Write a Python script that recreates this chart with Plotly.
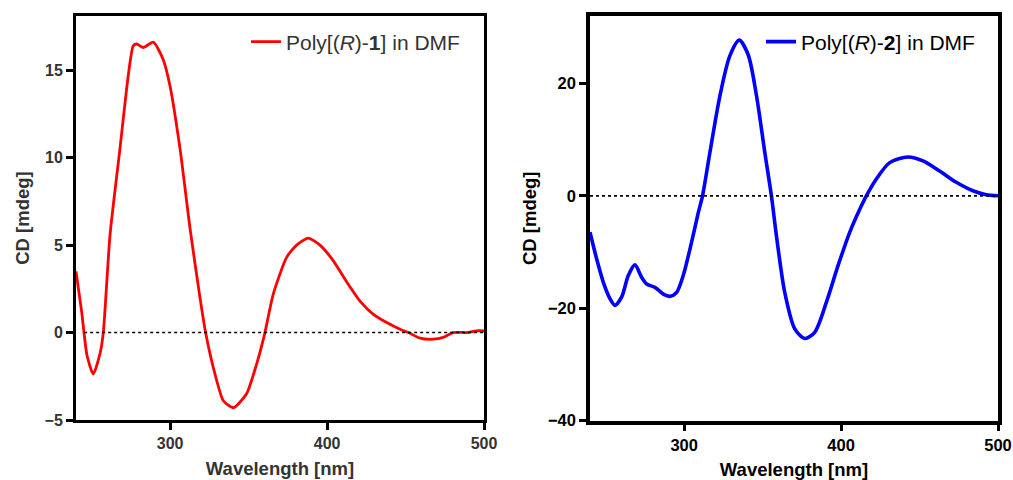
import plotly.graph_objects as go

# ---- data: Poly[(R)-1] in DMF (left) ----
wl1 = [240, 243.6, 247, 251, 255.3, 257.4, 261.7, 268, 273.3, 276.5, 278.7, 282.9, 289.3,
       295.6, 299.9, 306.3, 312.6, 319, 322.6, 327.5, 333.9, 340.3, 348.7, 355.1, 360.4,
       365.7, 374.2, 380.6, 388, 395.5, 404, 412.5, 421, 429.5, 438, 446.5, 451.8, 459.2,
       467.7, 474, 480.4, 488.9, 495.3, 500]
cd1 = [3.5, 1.2, -1.3, -2.37, -1.2, 0.0, 5.6, 10.5, 14.7, 16.4, 16.5, 16.3, 16.6,
       15.6, 14.1, 10.5, 6.0, 2.0, 0.0, -2.0, -3.9, -4.3, -3.5, -1.8, 0.0,
       2.2, 4.3, 5.0, 5.4, 5.0, 4.1, 2.9, 1.8, 1.04, 0.57, 0.19, 0.0, -0.32,
       -0.38, -0.28, 0.0, 0.0, 0.1, 0.1]

# ---- data: Poly[(R)-2] in DMF (right) ----
wl2 = [240, 244.2, 248.5, 252.7, 255.9, 260.2, 264.4, 268.6, 272.9, 276.1, 281.4, 286.7,
       290.9, 295.2, 299.4, 304.7, 309, 311.7, 316.4, 322.8, 329.1, 335.1, 340.8, 346.1,
       351.4, 355.6, 358.8, 364.1, 370.5, 376.9, 383.2, 390.7, 398.1, 405.5, 411.9, 416.1,
       422.5, 431, 442.6, 452.2, 462.8, 473.4, 484, 492.5, 500]
cd2 = [-6.5, -11.2, -15.4, -18.3, -19.5, -18.0, -14.2, -12.3, -14.5, -15.7, -16.3, -17.5,
       -17.9, -17.2, -14.2, -8.3, -3.0, 0.0, 7.7, 17.8, 24.9, 27.7, 25.1, 17.8,
       7.7, 0.0, -7.1, -17.2, -23.7, -25.4, -24.3, -18.9, -12.4, -6.5, -2.4, 0.0,
       3.0, 5.9, 6.9, 6.2, 4.4, 2.4, 0.9, 0.2, 0.0]

xticks = [300, 400, 500]
yticks1 = [-5, 0, 5, 10, 15]
yticks2 = [-40, -20, 0, 20]

W, H = 1013, 480
FONT = "Liberation Sans, Arial, sans-serif"

fig = go.Figure()
fig.add_trace(go.Scatter(x=wl1, y=cd1, mode="lines", xaxis="x", yaxis="y",
                         line=dict(color="#ff0000", width=2.8, shape="spline", smoothing=0.6),
                         name="Poly[(<i>R</i>)-<b>1</b>] in DMF", legend="legend"))
fig.add_trace(go.Scatter(x=wl2, y=cd2, mode="lines", xaxis="x2", yaxis="y2",
                         line=dict(color="#0000ff", width=3.6, shape="spline", smoothing=0.8),
                         name="Poly[(<i>R</i>)-<b>2</b>] in DMF", legend="legend2"))

def px_x(p):
    return p / W

def px_y(p):
    return 1 - p / H

common_axis = dict(showgrid=False, zeroline=False, showline=True, mirror=True,
                   linecolor="black", ticks="outside", ticklen=7, automargin=False,
                   tickwidth=3, tickcolor="black")

fig.update_layout(
    template="none",
    width=W, height=H,
    margin=dict(l=0, r=0, t=0, b=0, autoexpand=False),
    paper_bgcolor="white", plot_bgcolor="white",
    font=dict(family=FONT, color="black"),
    xaxis=dict(domain=[px_x(76), px_x(484)], range=[240, 500], tickvals=xticks,
               anchor="y", linewidth=3, tickfont=dict(size=16, color="#333", weight="bold"),
               title=dict(text="<b>Wavelength [nm]</b>", font=dict(size=18.5, color="#333"), standoff=11),
               **common_axis),
    yaxis=dict(domain=[px_y(420), px_y(16)], range=[-5, 18.1], tickvals=yticks1,
               anchor="x", linewidth=3, tickfont=dict(size=16, color="#333", weight="bold"),
               title=dict(text="<b>CD [mdeg]</b>", font=dict(size=18.5, color="#333"), standoff=11),
               **common_axis),
    xaxis2=dict(domain=[px_x(590), px_x(998)], range=[240, 500], tickvals=xticks,
                anchor="y2", linewidth=3.5, tickfont=dict(size=16.5, color="black", weight="bold"),
                title=dict(text="<b>Wavelength [nm]</b>", font=dict(size=18.5), standoff=12),
                **common_axis),
    yaxis2=dict(domain=[px_y(420.5), px_y(16)], range=[-40, 32], tickvals=yticks2,
                anchor="x2", linewidth=3.5, tickfont=dict(size=16.5, color="black", weight="bold"),
                title=dict(text="<b>CD [mdeg]</b>", font=dict(size=18.5), standoff=7),
                **common_axis),
    legend=dict(x=px_x(246), y=px_y(42), xanchor="left", yanchor="middle",
                bgcolor="rgba(0,0,0,0)", font=dict(size=21, color="#333", family=FONT),
                itemwidth=30),
    legend2=dict(x=px_x(761), y=px_y(42), xanchor="left", yanchor="middle",
                 bgcolor="rgba(0,0,0,0)", font=dict(size=21, color="black", family=FONT),
                 itemwidth=30),
    showlegend=True,
)

# dotted zero reference lines
fig.add_shape(type="line", xref="x domain", yref="y", x0=0.02, x1=1, y0=0, y1=0,
              line=dict(color="black", width=1.5, dash="dot"))
fig.add_shape(type="line", xref="x2 domain", yref="y2", x0=0, x1=1, y0=0, y1=0,
              line=dict(color="black", width=1.8, dash="dot"))

fig.write_html("out.html", config={"displayModeBar": False},
               post_script="document.body.style.margin='0';document.body.style.overflow='hidden';")
